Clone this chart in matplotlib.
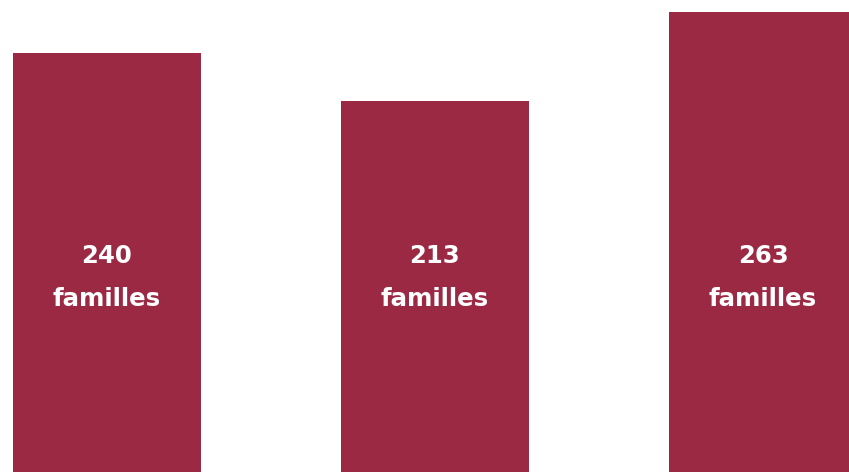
import numpy as np
import matplotlib
matplotlib.use('Agg')
from matplotlib import pyplot as plt

# data
values = [240, 213, 263]
labels = ['240\nfamilles', '213\nfamilles', '263\nfamilles']
x = np.arange(len(values))

barcol = '#9c2944'

fig = plt.figure(figsize=(8.49, 4.72), dpi=100)
ax = fig.add_axes([0, 0, 1, 1])
ax.bar(x, values, width=0.573, color=barcol)

for i, lab in enumerate(labels):
	ax.text(x[i], 114, lab, ha='center', va='center', color='white',
		fontsize=17.6, fontweight='bold', family='DejaVu Sans', linespacing=2.0)

ax.set_xlim(-0.326, 2.262)
ax.set_ylim(4.6, 269.8)
ax.axis('off')

fig.savefig('out.png', dpi=100)
